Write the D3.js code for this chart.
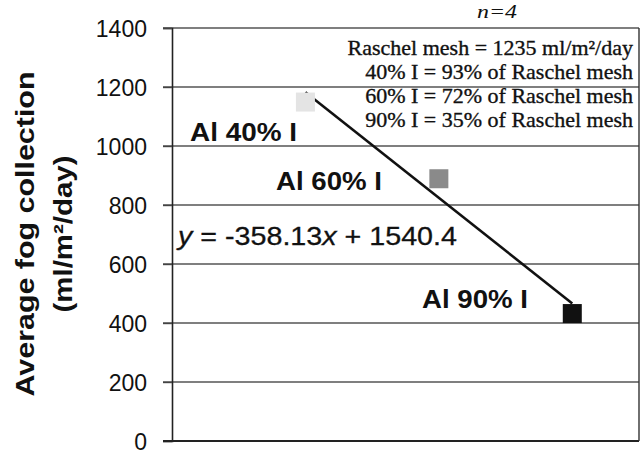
<!DOCTYPE html>
<html>
<head>
<meta charset="utf-8">
<script src="https://cdn.jsdelivr.net/npm/d3@7/dist/d3.min.js"></script>
<style>
html,body{margin:0;padding:0;background:#fff;}
svg{display:block;}
</style>
</head>
<body>
<svg id="chart" width="641" height="453"></svg>
<script>
// ---- data ----
const categories = ["Al 40% I", "Al 60% I", "Al 90% I"];
const xValues = [1, 2, 3];
const fogValues = [1149, 889, 432];
const markerColors = ["#e4e4e4", "#8a8a8a", "#111111"];
const yTicks = [0, 200, 400, 600, 800, 1000, 1200, 1400];
const trendSlope = -358.13;
const trendIntercept = 1540.4;
const noteTitle = "n=4";
const noteLines = [
  "Raschel mesh = 1235 ml/m\u00B2/day",
  "40% I = 93% of Raschel mesh",
  "60% I = 72% of Raschel mesh",
  "90% I = 35% of Raschel mesh"
];
const yTitle1 = "Average fog collection";
const yTitle2 = "(ml/m\u00B2/day)";

// ---- layout ----
const svg = d3.select("#chart");
const pLeft = 172, pRight = 639, pTop = 28, pBottom = 441;
const x = d3.scaleLinear().domain([0, 3.5]).range([pLeft, pRight]);
const y = d3.scaleLinear().domain([0, 1400]).range([pBottom, pTop]);
const sans = "'Liberation Sans', Arial, Helvetica, sans-serif";
const serif = "'Liberation Serif', 'Times New Roman', serif";

// gridlines
svg.append("g")
  .selectAll("line").data(yTicks.filter(d => d > 0)).join("line")
  .attr("x1", pLeft - 9).attr("x2", pRight)
  .attr("y1", d => y(d)).attr("y2", d => y(d))
  .attr("stroke", "#555").attr("stroke-width", 1.4);

// y axis
const yAxis = d3.axisLeft(y).tickValues(yTicks).tickFormat(d3.format("d")).tickSize(9).tickPadding(16);
const ga = svg.append("g").attr("transform", `translate(${pLeft},0)`).call(yAxis);
ga.select(".domain").attr("stroke", "#222").attr("stroke-width", 1.6);
ga.selectAll(".tick line").attr("stroke", "#444").attr("stroke-width", 1.4);
ga.selectAll(".tick text")
  .attr("font-family", sans).attr("font-size", 23).attr("fill", "#111").attr("dy", "0.35em");

// bottom and right border
svg.append("line").attr("x1", pLeft - 9).attr("x2", pRight).attr("y1", y(0)).attr("y2", y(0))
  .attr("stroke", "#222").attr("stroke-width", 1.8);
svg.append("line").attr("x1", pRight).attr("x2", pRight).attr("y1", y(1400)).attr("y2", y(0))
  .attr("stroke", "#333").attr("stroke-width", 1.4);

// y title
svg.append("text")
  .attr("transform", `translate(34,234) rotate(-90)`)
  .attr("text-anchor", "middle")
  .attr("font-family", sans).attr("font-weight", "bold").attr("font-size", 26)
  .attr("textLength", 325).attr("lengthAdjust", "spacingAndGlyphs")
  .attr("fill", "#111").text(yTitle1);
svg.append("text")
  .attr("transform", `translate(72,234) rotate(-90)`)
  .attr("text-anchor", "middle")
  .attr("font-family", sans).attr("font-weight", "bold").attr("font-size", 26)
  .attr("textLength", 157).attr("lengthAdjust", "spacingAndGlyphs")
  .attr("fill", "#111").text(yTitle2);

// trendline
svg.append("line")
  .attr("x1", x(xValues[0])).attr("y1", y(trendSlope * xValues[0] + trendIntercept))
  .attr("x2", x(xValues[2])).attr("y2", y(trendSlope * xValues[2] + trendIntercept))
  .attr("stroke", "#111").attr("stroke-width", 2.6);

// markers
const ms = 19;
svg.append("g").selectAll("rect").data(fogValues).join("rect")
  .attr("x", (d, i) => x(xValues[i]) - ms / 2)
  .attr("y", d => y(d) - ms / 2)
  .attr("width", ms).attr("height", ms)
  .attr("fill", (d, i) => markerColors[i]);

// category labels
const labelPos = [[190, 141, 107], [276, 190, 106], [422, 308, 106]];
svg.append("g").selectAll("text").data(categories).join("text")
  .attr("x", (d, i) => labelPos[i][0]).attr("y", (d, i) => labelPos[i][1])
  .attr("font-family", sans).attr("font-weight", "bold").attr("font-size", 26)
  .attr("textLength", (d, i) => labelPos[i][2]).attr("lengthAdjust", "spacingAndGlyphs")
  .attr("fill", "#111").text(d => d);

// equation
const eq = svg.append("text").attr("x", 178).attr("y", 245)
  .attr("font-family", sans).attr("font-size", 25).attr("fill", "#111")
  .attr("stroke", "#111").attr("stroke-width", 0.3)
  .attr("textLength", 279).attr("lengthAdjust", "spacingAndGlyphs");
eq.append("tspan").attr("font-style", "italic").text("y");
eq.append("tspan").text(` = ${trendSlope}`);
eq.append("tspan").attr("font-style", "italic").text("x");
eq.append("tspan").text(` + ${trendIntercept}`);

// notes
svg.append("text").attr("x", 497).attr("y", 18).attr("text-anchor", "middle")
  .attr("font-family", serif).attr("font-style", "italic").attr("font-size", 18)
  .attr("textLength", 40).attr("lengthAdjust", "spacingAndGlyphs")
  .attr("fill", "#111").text(noteTitle);
svg.append("g").selectAll("text").data(noteLines).join("text")
  .attr("x", 633).attr("y", (d, i) => 55 + i * 24)
  .attr("text-anchor", "end")
  .attr("font-family", serif).attr("font-size", 22).attr("fill", "#111")
  .attr("stroke", "#111").attr("stroke-width", 0.35)
  .text(d => d);
</script>
</body>
</html>
